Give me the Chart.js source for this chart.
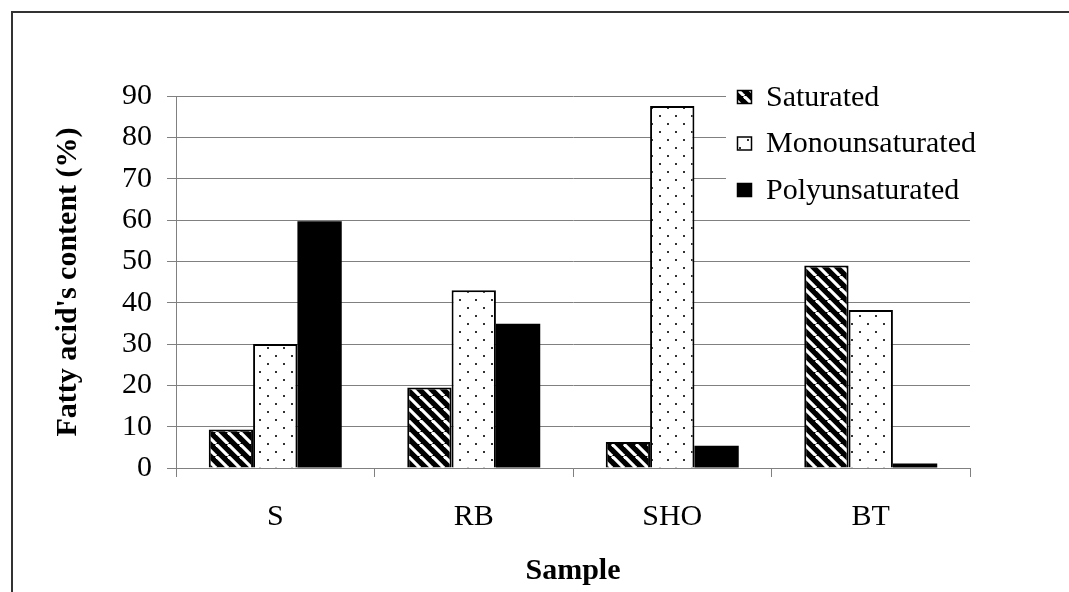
<!DOCTYPE html>
<html>
<head>
<meta charset="utf-8">
<script src="https://cdn.jsdelivr.net/npm/chart.js@4"></script>
<style>
  html, body { margin: 0; padding: 0; background: #fff; }
  #wrap { width: 1069px; height: 592px; }
</style>
</head>
<body>
<div id="wrap"><canvas id="barchart" width="1069" height="592"></canvas></div>
<script>
const samples = ['S', 'RB', 'SHO', 'BT'];
const saturated = [9.3, 19.5, 6.3, 49];
const monounsaturated = [30, 43, 87.6, 38.2];
const polyunsaturated = [59.7, 34.9, 5.4, 1.1];
const yTicks = [0, 10, 20, 30, 40, 50, 60, 70, 80, 90];

const FONT = "'Liberation Serif', 'Times New Roman', serif";
const GRID = '#808080';

// hatch: black with white diagonal stripes
function stripePattern() {
  const p = 12;
  const c = document.createElement('canvas');
  c.width = p; c.height = p;
  const g = c.getContext('2d');
  g.fillStyle = '#000';
  g.fillRect(0, 0, p, p);
  g.strokeStyle = '#fff';
  g.lineWidth = 3.2;
  for (const x0 of [-p, 0, p]) {
    g.beginPath();
    g.moveTo(x0, 0);
    g.lineTo(x0 + p, p);
    g.stroke();
  }
  return g.createPattern(c, 'repeat');
}

// white with small grey dots
function dotPattern() {
  const c = document.createElement('canvas');
  c.width = 16; c.height = 16;
  const g = c.getContext('2d');
  g.fillStyle = '#fff';
  g.fillRect(0, 0, 16, 16);
  g.fillStyle = '#333';
  g.fillRect(3, 3, 2, 2);
  g.fillRect(11, 11, 2, 2);
  return g.createPattern(c, 'repeat');
}

const fills = [stripePattern(), dotPattern(), '#000'];

const frame = {
  id: 'frame',
  beforeDraw(chart) {
    const ctx = chart.ctx;
    ctx.save();
    ctx.strokeStyle = '#333';
    ctx.lineWidth = 2;
    ctx.beginPath();
    ctx.moveTo(12, 592);
    ctx.lineTo(12, 12);
    ctx.lineTo(1069, 12);
    ctx.stroke();
    ctx.restore();
  }
};

const boxLegend = {
  id: 'boxLegend',
  afterDraw(chart) {
    const ctx = chart.ctx;
    ctx.save();
    ctx.fillStyle = '#fff';
    ctx.fillRect(726, 80, 262, 128);
    ctx.font = '30px ' + FONT;
    ctx.textBaseline = 'middle';
    ctx.textAlign = 'left';
    chart.data.datasets.forEach((ds, i) => {
      const y = 97 + i * 46.5;
      ctx.fillStyle = fills[i];
      ctx.fillRect(737, y - 7, 15, 14);
      ctx.strokeStyle = '#000';
      ctx.lineWidth = 1.5;
      ctx.strokeRect(737.5, y - 6.5, 14, 13);
      ctx.fillStyle = '#000';
      ctx.fillText(ds.label, 766, y + 1);
    });
    ctx.restore();
  }
};

new Chart(document.getElementById('barchart'), {
  type: 'bar',
  data: {
    labels: samples,
    datasets: [
      { label: 'Saturated', data: saturated, backgroundColor: fills[0], borderColor: '#000', borderWidth: 2 },
      { label: 'Monounsaturated', data: monounsaturated, backgroundColor: fills[1], borderColor: '#000', borderWidth: 2 },
      { label: 'Polyunsaturated', data: polyunsaturated, backgroundColor: fills[2], borderColor: '#000', borderWidth: 0 }
    ]
  },
  options: {
    responsive: false,
    animation: false,
    layout: { padding: { left: 0, top: 96, right: 99, bottom: 0 } },
    datasets: { bar: { categoryPercentage: 0.67, barPercentage: 1.0 } },
    plugins: {
      legend: { display: false },
      tooltip: { enabled: false }
    },
    scales: {
      x: {
        grid: { offset: true, drawOnChartArea: false, drawTicks: true, tickLength: 9, color: GRID },
        border: { color: GRID, width: 1 },
        ticks: { color: '#000', font: { family: FONT, size: 30 }, padding: 22 },
        title: { display: true, text: 'Sample', color: '#000', font: { family: FONT, size: 30, weight: 'bold' }, padding: { top: 0, bottom: 3 } },
        afterFit(scale) { scale.height = 124; }
      },
      y: {
        min: 0,
        max: 90,
        afterBuildTicks(scale) { scale.ticks = yTicks.map(v => ({ value: v })); },
        grid: { color: GRID, tickLength: 9, lineWidth: 1 },
        border: { color: GRID, width: 1 },
        ticks: { color: '#000', font: { family: FONT, size: 30 }, padding: 15 },
        title: { display: true, text: "Fatty acid's content (%)", color: '#000', font: { family: FONT, size: 30, weight: 'bold' }, padding: { top: 50, bottom: 0 } },
        afterFit(scale) { scale.width = 176; }
      }
    }
  },
  plugins: [frame, boxLegend]
});
</script>
</body>
</html>
